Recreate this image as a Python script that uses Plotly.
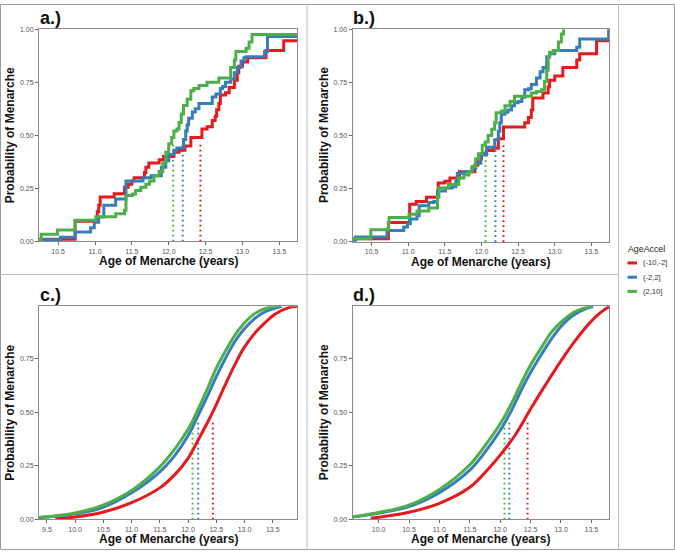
import plotly.graph_objects as go

W, H = 675, 553
FONT = "Liberation Sans, Arial, Helvetica, sans-serif"

groups = ["(-10,-2]", "(-2,2]", "(2,10]"]
colors = ["#E41A1C", "#377EB8", "#4DAF4A"]

# ---------------- panel a (empirical step curves) ----------------
a_red_x = [10.2, 10.73, 11.03, 11.05, 11.07, 11.26, 11.40, 11.45, 11.50, 11.53, 11.67, 11.69, 11.73, 11.87,
           11.93, 12.07, 12.14, 12.22, 12.30, 12.45, 12.52, 12.59, 12.63, 12.65, 12.68, 12.70, 12.77, 12.82,
           12.89, 12.93, 12.95, 13.00, 13.07, 13.32, 13.56, 13.80]
a_red_y = [0.01, 0.095, 0.14, 0.17, 0.21, 0.225, 0.255, 0.27, 0.285, 0.30, 0.325, 0.35, 0.37, 0.385,
           0.40, 0.42, 0.43, 0.45, 0.49, 0.53, 0.54, 0.57, 0.59, 0.62, 0.65, 0.69, 0.70, 0.725,
           0.76, 0.795, 0.825, 0.845, 0.865, 0.90, 0.946, 0.946]
a_blue_x = [10.2, 10.53, 10.73, 10.94, 10.99, 11.05, 11.12, 11.28, 11.42, 11.65, 11.76, 11.90, 11.96, 12.0,
            12.07, 12.11, 12.20, 12.23, 12.25, 12.27, 12.32, 12.36, 12.41, 12.59, 12.64, 12.70, 12.73,
            12.77, 12.84, 12.89, 12.93, 12.98, 13.02, 13.05, 13.30, 13.34, 13.80]
a_blue_y = [0.008, 0.02, 0.045, 0.065, 0.09, 0.115, 0.17, 0.20, 0.285, 0.30, 0.31, 0.35, 0.38, 0.41,
            0.43, 0.44, 0.48, 0.52, 0.55, 0.58, 0.61, 0.625, 0.65, 0.68, 0.695, 0.72, 0.73,
            0.75, 0.765, 0.795, 0.82, 0.85, 0.865, 0.87, 0.895, 0.965, 0.965]
a_green_x = [10.2, 10.27, 10.49, 10.73, 11.01, 11.28, 11.40, 11.42, 11.51, 11.55, 11.62, 11.69, 11.74, 11.80,
             11.87, 11.92, 11.96, 12.0, 12.04, 12.07, 12.11, 12.14, 12.17, 12.20, 12.25, 12.30, 12.34,
             12.41, 12.52, 12.68, 12.84, 12.89, 12.91, 13.05, 13.09, 13.13, 13.80]
a_green_y = [0.008, 0.034, 0.054, 0.10, 0.116, 0.13, 0.147, 0.216, 0.224, 0.24, 0.255, 0.27, 0.285, 0.31,
             0.33, 0.37, 0.42, 0.46, 0.49, 0.52, 0.53, 0.56, 0.60, 0.64, 0.67, 0.71, 0.72,
             0.735, 0.75, 0.77, 0.82, 0.855, 0.895, 0.91, 0.94, 0.975, 0.975]

# ---------------- panel b (empirical step curves) ----------------
b_red_x = [10.2, 10.73, 11.02, 11.11, 11.25, 11.41, 11.50, 11.57, 11.70, 11.91, 11.95, 12.0, 12.07, 12.16,
           12.23, 12.30, 12.59, 12.64, 12.68, 12.70, 12.84, 12.91, 12.93, 13.0, 13.11, 13.30, 13.34,
           13.57, 13.80]
b_red_y = [0.015, 0.092, 0.177, 0.19, 0.21, 0.277, 0.285, 0.30, 0.33, 0.36, 0.39, 0.415, 0.43, 0.44,
           0.485, 0.54, 0.56, 0.585, 0.62, 0.677, 0.70, 0.73, 0.76, 0.78, 0.82, 0.855, 0.885,
           0.946, 0.946]
b_blue_x = [10.2, 10.28, 10.71, 10.94, 10.99, 11.03, 11.12, 11.15, 11.28, 11.35, 11.40, 11.51, 11.60, 11.65,
            11.67, 11.76, 11.87, 11.92, 11.99, 12.07, 12.18, 12.23, 12.25, 12.27, 12.32, 12.36, 12.41,
            12.45, 12.50, 12.55, 12.59, 12.64, 12.68, 12.75, 12.80, 12.84, 12.89, 12.93, 13.0, 13.30,
            13.34, 13.735]
b_blue_y = [0.008, 0.023, 0.054, 0.07, 0.085, 0.108, 0.123, 0.17, 0.185, 0.19, 0.24, 0.254, 0.26, 0.285,
            0.323, 0.33, 0.345, 0.37, 0.41, 0.445, 0.48, 0.52, 0.56, 0.60, 0.61, 0.62, 0.64,
            0.654, 0.66, 0.68, 0.715, 0.72, 0.74, 0.77, 0.80, 0.82, 0.87, 0.885, 0.90, 0.915,
            0.954, 1.0]
b_green_x = [10.2, 10.49, 10.73, 10.74, 11.01, 11.12, 11.28, 11.40, 11.42, 11.55, 11.69, 11.76, 11.83, 11.87,
             11.92, 11.96, 12.01, 12.05, 12.09, 12.14, 12.18, 12.20, 12.27, 12.32, 12.39, 12.45, 12.68,
             12.75, 12.82, 12.86, 12.89, 12.91, 12.93, 12.98, 13.05, 13.09, 13.12]
b_green_y = [0.015, 0.057, 0.092, 0.115, 0.13, 0.146, 0.16, 0.21, 0.254, 0.27, 0.30, 0.315, 0.33, 0.355,
             0.39, 0.415, 0.454, 0.47, 0.50, 0.53, 0.56, 0.607, 0.615, 0.64, 0.66, 0.685, 0.70,
             0.707, 0.715, 0.754, 0.807, 0.87, 0.892, 0.90, 0.94, 0.977, 1.0]

# ---------------- panel c (fitted curves) ----------------
c_red_x = [9.65, 10.0, 10.47, 11.0, 11.5, 11.77, 12.0, 12.18, 12.36, 12.49, 12.65, 12.83, 12.99, 13.18,
           13.36, 13.54, 13.78, 13.95]
c_red_y = [0.003, 0.011, 0.032, 0.078, 0.147, 0.21, 0.285, 0.37, 0.46, 0.53, 0.623, 0.722, 0.80, 0.868,
           0.917, 0.957, 0.988, 0.995]
c_blue_x = [9.3, 9.5, 10.0, 10.47, 11.0, 11.5, 11.77, 12.0, 12.18, 12.36, 12.49, 12.65, 12.83, 12.99,
            13.18, 13.36, 13.66]
c_blue_y = [0.007, 0.011, 0.026, 0.054, 0.124, 0.222, 0.30, 0.39, 0.485, 0.584, 0.66, 0.745, 0.83, 0.887,
            0.937, 0.968, 0.994]
c_green_x = [9.3, 9.5, 10.0, 10.47, 11.0, 11.5, 11.77, 12.0, 12.18, 12.36, 12.49, 12.65, 12.83, 12.99,
             13.18, 13.36, 13.6]
c_green_y = [0.008, 0.012, 0.03, 0.064, 0.135, 0.245, 0.33, 0.42, 0.515, 0.62, 0.70, 0.78, 0.86, 0.914,
             0.96, 0.983, 0.994]

# ---------------- panel d (fitted curves) ----------------
d_red_x = [9.87, 10.0, 10.5, 11.0, 11.5, 11.85, 12.0, 12.25, 12.5, 12.75, 13.0, 13.25, 13.5, 13.65, 13.8]
d_red_y = [0.005, 0.01, 0.033, 0.075, 0.15, 0.25, 0.30, 0.395, 0.515, 0.63, 0.74, 0.84, 0.925, 0.965, 0.994]
d_blue_x = [9.5, 10.0, 10.5, 11.0, 11.5, 11.74, 12.0, 12.18, 12.35, 12.5, 12.69, 12.85, 13.0, 13.19, 13.41, 13.53]
d_blue_y = [0.009, 0.029, 0.06, 0.125, 0.23, 0.31, 0.415, 0.505, 0.605, 0.685, 0.775, 0.845, 0.90, 0.95, 0.983, 0.994]
d_green_x = [9.5, 10.0, 10.5, 11.0, 11.5, 11.74, 12.0, 12.18, 12.35, 12.5, 12.69, 12.85, 13.0, 13.19, 13.41, 13.51]
d_green_y = [0.009, 0.032, 0.067, 0.14, 0.255, 0.34, 0.446, 0.538, 0.638, 0.72, 0.807, 0.876, 0.92, 0.963, 0.988, 0.994]

# medians (dotted lines) per panel, order: red, blue, green
med_a = [12.43, 12.19, 12.06]
med_b = [12.30, 12.19, 12.055]
med_c = [12.44, 12.18, 12.08]
med_d = [12.45, 12.15, 12.07]
med_top = [0.47, 0.47, 0.465, 0.465]

x_ticks_ab = [10.5, 11.0, 11.5, 12.0, 12.5, 13.0, 13.5]
x_ticks_c = [9.5, 10.0, 10.5, 11.0, 11.5, 12.0, 12.5, 13.0, 13.5]
x_ticks_d = [10.0, 10.5, 11.0, 11.5, 12.0, 12.5, 13.0, 13.5]
y_ticks_ab = [0.0, 0.25, 0.5, 0.75, 1.0]
y_ticks_cd = [0.0, 0.25, 0.5, 0.75]

panel_labels = ["a.)", "b.)", "c.)", "d.)"]
x_title = "Age of Menarche (years)"
y_title = "Probability of Menarche"
legend_title = "AgeAccel"


# ---------------- layout geometry (pixels -> paper) ----------------
def px(x):
    return x / W


def py(y):
    return 1 - y / H


panels = [
    dict(ax="", box=(39, 297, 25.5, 240.5), xr=[10.24, 13.74], yr=[0, 1], xt=x_ticks_ab, yt=y_ticks_ab,
         shape="hv", series=[(a_red_x, a_red_y), (a_blue_x, a_blue_y), (a_green_x, a_green_y)], med=med_a),
    dict(ax="2", box=(352.5, 609, 25.5, 241), xr=[10.24, 13.74], yr=[0, 1], xt=x_ticks_ab, yt=y_ticks_ab,
         shape="hv", series=[(b_red_x, b_red_y), (b_blue_x, b_blue_y), (b_green_x, b_green_y)], med=med_b),
    dict(ax="3", box=(39, 297, 306, 522), xr=[9.36, 13.93], yr=[0, 0.995], xt=x_ticks_c, yt=y_ticks_cd,
         shape="spline", series=[(c_red_x, c_red_y), (c_blue_x, c_blue_y), (c_green_x, c_green_y)], med=med_c),
    dict(ax="4", box=(352.5, 609, 306, 522), xr=[9.57, 13.79], yr=[0, 0.995], xt=x_ticks_d, yt=y_ticks_cd,
         shape="spline", series=[(d_red_x, d_red_y), (d_blue_x, d_blue_y), (d_green_x, d_green_y)], med=med_d),
]

fig = go.Figure()
annotations = []
layout_axes = {}

for i, p in enumerate(panels):
    xa = "x" + p["ax"]
    ya = "y" + p["ax"]
    # dotted median lines (under the curves)
    for m, col in zip(p["med"], colors):
        fig.add_trace(go.Scatter(x=[m, m], y=[0, med_top[i]], mode="lines", xaxis=xa, yaxis=ya,
                                 line=dict(color=col, width=2, dash="1.6px,3.4px"),
                                 showlegend=False, hoverinfo="skip"))
    for (sx, sy), col, g in zip(p["series"], colors, groups):
        line = dict(color=col, width=3, shape=p["shape"])
        if p["shape"] == "spline":
            line["smoothing"] = 1.0
        fig.add_trace(go.Scatter(x=sx, y=sy, mode="lines", xaxis=xa, yaxis=ya, line=line,
                                 name=g, showlegend=False))
    x0, x1, y0, y1 = p["box"]
    common = dict(showline=True, mirror=True, linecolor="#8a8a8a", linewidth=1, showgrid=False,
                  zeroline=False, ticks="outside", ticklen=3, tickwidth=1, tickcolor="#666666",
                  tickfont=dict(family=FONT, size=7, color="#555555"), fixedrange=True)
    layout_axes["xaxis" + p["ax"]] = dict(
        domain=[px(x0), px(x1)], range=p["xr"], anchor=ya, tickmode="array", tickvals=p["xt"],
        ticktext=["%.1f" % v for v in p["xt"]], **common)
    layout_axes["yaxis" + p["ax"]] = dict(
        domain=[py(y1), py(y0)], range=p["yr"], anchor=xa, tickmode="array", tickvals=p["yt"],
        ticktext=["%.2f" % v for v in p["yt"]], **common)
    cx = (x0 + x1) / 2
    cy = (y0 + y1) / 2
    annotations.append(dict(text="<b>%s</b>" % x_title, x=px(cx), y=py(y1 + 20), xref="paper", yref="paper",
                            xanchor="center", yanchor="middle", showarrow=False,
                            font=dict(family=FONT, size=12, color="#111111")))
    annotations.append(dict(text="<b>%s</b>" % y_title, x=px(x0 - 29), y=py(cy), xref="paper", yref="paper",
                            xanchor="center", yanchor="middle", textangle=-90, showarrow=False,
                            font=dict(family=FONT, size=12, color="#111111")))
    annotations.append(dict(text="<b>%s</b>" % panel_labels[i], x=px(x0 - 1.5), y=py(y0 - 11.5),
                            xref="paper", yref="paper", xanchor="left", yanchor="middle", showarrow=False,
                            font=dict(family=FONT, size=18, color="#111111")))

# ---------------- manual legend in right column ----------------
shapes = []
annotations.append(dict(text=legend_title, x=px(626), y=py(248), xref="paper", yref="paper",
                        xanchor="left", yanchor="middle", showarrow=False,
                        font=dict(family=FONT, size=8.8, color="#222222")))
for k, (g, col) in enumerate(zip(groups, colors)):
    yy = 262.3 + k * 14.4
    shapes.append(dict(type="line", xref="paper", yref="paper", x0=px(627.5), x1=px(637), y0=py(yy), y1=py(yy),
                       line=dict(color=col, width=3)))
    annotations.append(dict(text=g, x=px(641), y=py(yy), xref="paper", yref="paper", xanchor="left",
                            yanchor="middle", showarrow=False, font=dict(family=FONT, size=7.6, color="#333333")))

# ---------------- frame lines ----------------
frame_col = "#bdbdbd"
shapes += [
    dict(type="rect", xref="paper", yref="paper", x0=px(0.5), x1=px(674.5), y0=py(552.5), y1=py(0.5),
         line=dict(color="#9a9a9a", width=1)),
    dict(type="line", xref="paper", yref="paper", x0=px(307), x1=px(307), y0=0, y1=1,
         line=dict(color=frame_col, width=1)),
    dict(type="line", xref="paper", yref="paper", x0=px(618.5), x1=px(618.5), y0=0, y1=1,
         line=dict(color=frame_col, width=1)),
    dict(type="line", xref="paper", yref="paper", x0=0, x1=px(618.5), y0=py(274), y1=py(274),
         line=dict(color=frame_col, width=1)),
]

fig.update_layout(
    width=W, height=H, margin=dict(l=0, r=0, t=0, b=0, pad=0),
    paper_bgcolor="white", plot_bgcolor="white", showlegend=False,
    annotations=annotations, shapes=shapes, **layout_axes,
)

# the page body has a default 8px margin; remove it so the figure fills the window exactly
fig.write_html("out.html", config={"displayModeBar": False},
               post_script="document.body.style.margin='0px';")
